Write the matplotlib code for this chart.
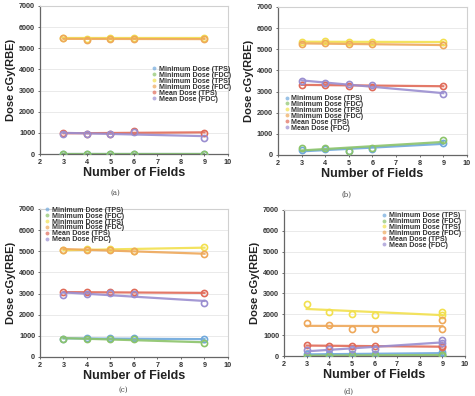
import numpy as np
import matplotlib
matplotlib.use("Agg")
import matplotlib.pyplot as plt
from matplotlib.lines import Line2D

plt.rcParams['font.family'] = ['Liberation Sans', 'DejaVu Sans']

labels = ["Minimum Dose (TPS)", "Minimum Dose (FDC)", "Minimum Dose (TPS)",
          "Minimum Dose (FDC)", "Mean Dose (TPS)", "Mean Dose (FDC)"]
colors = ["#6fa8dc", "#8cc46a", "#f2e04e", "#eea85a", "#e06a58", "#9a8ed0"]

fields_abc = [3, 4, 5, 6, 9]
fields_d = [3, 4, 5, 6, 9, 9]

# panel (a)
a_vals = [
    [20, 20, 20, 20, 20],
    [15, 15, 15, 15, 15],
    [5500, 5450, 5480, 5490, 5480],
    [5480, 5380, 5450, 5460, 5430],
    [980, 960, 970, 1080, 1000],
    [950, 950, 960, 1060, 780],
]
# panel (b)
b_vals = [
    [230, 280, 180, 300, 580],
    [310, 340, 200, 330, 700],
    [5350, 5380, 5330, 5330, 5350],
    [5230, 5300, 5260, 5250, 5180],
    [3330, 3330, 3280, 3220, 3280],
    [3480, 3420, 3340, 3300, 2880],
]
# panel (c)
c_vals = [
    [860, 880, 880, 880, 830],
    [830, 870, 860, 860, 650],
    [5050, 5100, 5100, 5020, 5200],
    [5050, 5080, 5070, 5020, 4850],
    [3050, 3060, 3080, 3050, 3020],
    [2920, 2990, 3020, 2980, 2550],
]
# panel (d)
d_vals = [
    [80, 95, 95, 95, 200, 80],
    [20, 20, 30, 30, 60, 40],
    [2490, 2110, 2030, 1950, 2100, 1950],
    [1590, 1480, 1300, 1270, 1710, 1270],
    [520, 470, 490, 460, 480, 420],
    [290, 320, 320, 330, 750, 620],
]

panels = [
    ("(a)", fields_abc, a_vals, [0.0842, 0.611, 0.3958, 0.374],
     dict(loc="upper right", bbox_to_anchor=(1.02, 0.60)), (0.242, 0.512)),
    ("(b)", fields_abc, b_vals, [0.585, 0.6086, 0.398, 0.374],
     dict(loc="upper left", bbox_to_anchor=(0.03, 0.41)), (0.73, 0.507)),
    ("(c)", fields_abc, c_vals, [0.0842, 0.0985, 0.3958, 0.374],
     dict(loc="upper left", bbox_to_anchor=(0.02, 1.02)), (0.259, 0.015)),
    ("(d)", fields_d, d_vals, [0.598, 0.101, 0.381, 0.369],
     dict(loc="upper right", bbox_to_anchor=(0.98, 0.99)), (0.733, 0.01)),
]

fig = plt.figure(figsize=(4.75, 3.96), dpi=100)

for cap, xs, vals, rect, legkw, cappos in panels:
    ax = fig.add_axes(rect)
    xs_arr = np.array(xs, dtype=float)
    for vals_i, col in zip(vals, colors):
        y = np.array(vals_i, dtype=float)
        k, b = np.polyfit(xs_arr, y, 1)
        xl = np.array([xs_arr.min(), xs_arr.max()])
        ax.plot(xl, k * xl + b, color=col, lw=1.6, alpha=0.9, zorder=2)
        ax.plot(xs_arr, y, linestyle="none", marker="o", ms=4.4,
                mfc="none", mec=col, mew=1.2, zorder=3)
    ax.set_xlim(2, 10)
    ax.set_ylim(0, 7000)
    ax.set_xticks(range(2, 11))
    ax.set_yticks(range(0, 7001, 1000))
    ax.yaxis.grid(True, color="#e6e6e6", lw=0.6)
    ax.set_axisbelow(True)
    for s in ["left", "bottom"]:
        ax.spines[s].set_color("#666666")
        ax.spines[s].set_linewidth(0.9)
    for s in ["right", "top"]:
        ax.spines[s].set_color("#d0d0d0")
        ax.spines[s].set_linewidth(0.8)
    ax.tick_params(axis="both", labelsize=5.2, length=1.5, width=0.6,
                   colors="#555555", labelcolor="#333333", pad=2)
    for t in ax.get_xticklabels() + ax.get_yticklabels():
        t.set_fontweight("bold")
    ax.set_xlabel("Number of Fields", fontsize=9, fontweight="bold",
                  color="#222222", labelpad=1)
    ax.set_ylabel("Dose cGy(RBE)", fontsize=8, fontweight="bold",
                  color="#222222", labelpad=2)
    handles = [Line2D([], [], linestyle="none", marker="o", ms=2.8,
                      mfc=c, mec="none", alpha=0.7) for c in colors]
    leg = ax.legend(handles, labels, frameon=False, fontsize=5.1,
                    labelspacing=-0.15, handlelength=0.7, handletextpad=0.3,
                    borderpad=0.1, borderaxespad=0, **legkw)
    for t in leg.get_texts():
        t.set_fontweight("bold")
        t.set_color("#333333")
    fig.text(cappos[0], cappos[1], cap, fontsize=5,
             family=["DejaVu Serif"], color="#444444",
             ha="center", va="center")

fig.savefig("out.png", dpi=100)
